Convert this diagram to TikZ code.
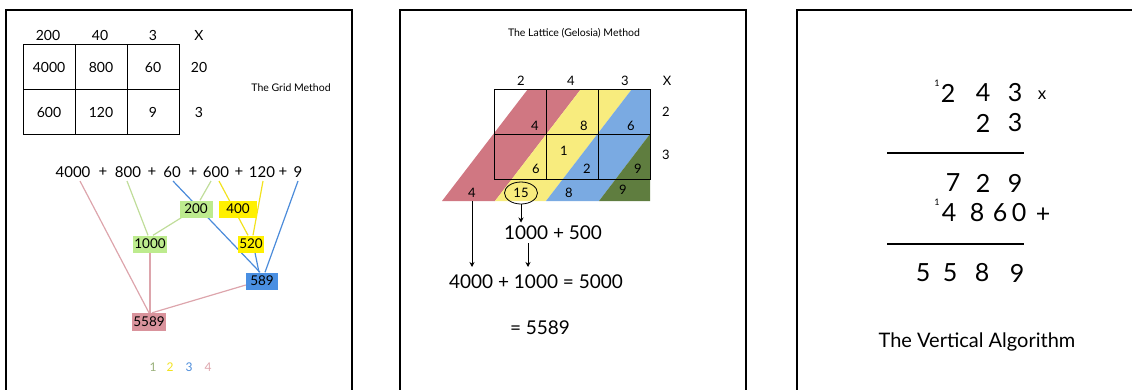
\documentclass[tikz,border=0pt]{standalone}
\usepackage{fontspec}
\setmainfont{Lato}
\usetikzlibrary{arrows.meta,backgrounds,shapes.geometric}

\definecolor{lnpink}{HTML}{DDA5AC}
\definecolor{lngreen}{HTML}{C0DD9A}
\definecolor{lnyellow}{HTML}{F2E21E}
\definecolor{lnblue}{HTML}{4B8BDA}
\definecolor{bxpink}{HTML}{D9939C}
\definecolor{bxgreen}{HTML}{BDEB8E}
\definecolor{bxyellow}{HTML}{FFF000}
\definecolor{bxblue}{HTML}{4A8FE2}
\definecolor{ltpink}{HTML}{D07782}
\definecolor{ltyellow}{HTML}{F8EC7E}
\definecolor{ltblue}{HTML}{7AAAE2}
\definecolor{ltgreen}{HTML}{5F7D3F}

\begin{document}
\begin{tikzpicture}[x=1pt,y=-1pt,
  panel/.style={line width=2pt},
  cellnum/.style={font=\fontsize{14}{16}\selectfont},
  sumnum/.style={font=\fontsize{15}{17}\selectfont},
  tally/.style={inner xsep=1pt,minimum height=17pt,font=\fontsize{13.5}{15}\selectfont},
  link/.style={line width=1.2pt},
  latnum/.style={font=\fontsize{13}{15}\selectfont},
  bignum/.style={font=\fontsize{19}{22}\selectfont},
  vertnum/.style={font=\fontsize{25}{28}\selectfont},
  carry/.style={inner sep=0pt,font=\fontsize{9}{11}\selectfont},
  caption/.style={font=\fontsize{10.5}{12}\selectfont}]
  \useasboundingbox (0,0) rectangle (1132,389);
  \clip (0,0) rectangle (1132,389);

  % frames
  \draw[panel] (6,400) -- (6,10) -- (352,10) -- (352,400);
  \draw[panel] (400,400) -- (400,10) -- (746,10) -- (746,400);
  \draw[panel] (797,400) -- (797,10) -- (1140,10);

  % the grid method
  \foreach \c in {0,1,2}
    \foreach \r in {0,1}
      \draw (23+52*\c,44+45*\r) rectangle ++(52,45);
  \node[cellnum] (h1) at (48,35) {200};
  \node[cellnum] (h2) at (100,35) {40};
  \node[cellnum] (h3) at (153,35) {3};
  \node[cellnum] (hx) at (199,35) {X};
  \node[cellnum] (g11) at (49,67) {4000};
  \node[cellnum] (g12) at (101,67) {800};
  \node[cellnum] (g13) at (153,67) {60};
  \node[cellnum] (v1) at (199,67) {20};
  \node[cellnum] (g21) at (49,112) {600};
  \node[cellnum] (g22) at (101,112) {120};
  \node[cellnum] (g23) at (153,112) {9};
  \node[cellnum] (v2) at (199,112) {3};
  \node[caption] (gridname) at (291,88) {The Grid Method};

  \node[sumnum] (t1) at (73,172) {4000};
  \node[sumnum] (p1) at (103,172) {+};
  \node[sumnum] (t2) at (128,172) {800};
  \node[sumnum] (p2) at (152,172) {+};
  \node[sumnum] (t3) at (172,172) {60};
  \node[sumnum] (p3) at (193,172) {+};
  \node[sumnum] (t4) at (216,172) {600};
  \node[sumnum] (p4) at (239,172) {+};
  \node[sumnum] (t5) at (262,172) {120};
  \node[sumnum] (p5) at (283,172) {+};
  \node[sumnum] (t6) at (298,172) {9};

  \node[tally,fill=bxgreen,minimum width=33pt] (b200) at (196,209) {200};
  \node[tally,fill=bxyellow,minimum width=38pt] (b400) at (238,209) {400};
  \node[tally,fill=bxgreen,minimum width=33pt] (b1000) at (150,244) {1000};
  \node[tally,fill=bxyellow,minimum width=24pt] (b520) at (251,244) {520};
  \node[tally,fill=bxblue,minimum width=32pt] (b589) at (262,281) {589};
  \node[tally,fill=bxpink,minimum width=32pt,minimum height=18pt] (b5589) at (149,322) {5589};

  \begin{scope}[on background layer]
    \draw[link,lnpink] ([xshift=7pt]t1.south) -- (b5589.north);
    \draw[link,lngreen] ([xshift=-1pt]t2.south) -- ([xshift=-2pt]b1000.north);
    \draw[link,lnblue] ([xshift=1pt]t3.south) -- ([xshift=-2pt]b589.north);
    \draw[link,lngreen] ([xshift=-5pt]t4.south) -- ([xshift=4pt]b200.north);
    \draw[link,lngreen] ([xshift=2pt]b200.south west) -- ([xshift=3pt]b1000.north);
    \draw[link,lnyellow] ([xshift=3pt]t4.south) -- ([xshift=-3pt]b520.north);
    \draw[link,lnyellow] ([xshift=1pt]t5.south) -- ([xshift=2pt]b520.north);
    \draw[link,lnblue] ([xshift=4pt]b520.south) -- ([xshift=-3pt]b589.north);
    \draw[link,lnblue] (t6.south) -- ([xshift=3pt]b589.north);
    \draw[link,lnpink] (b1000.south) -- (b1000.south |- b5589.north);
    \draw[link,lnpink] ([yshift=-4pt]b589.west) -- ([xshift=3pt]b5589.north);
  \end{scope}

  \node[font=\fontsize{12}{14}\selectfont,lngreen!80!black] (k1) at (153,367) {1};
  \node[font=\fontsize{12}{14}\selectfont,lnyellow] (k2) at (170,367) {2};
  \node[font=\fontsize{12}{14}\selectfont,lnblue] (k3) at (189,367) {3};
  \node[font=\fontsize{12}{14}\selectfont,lnpink] (k4) at (208,367) {4};

  % the lattice method
  \node[caption] (latname) at (574,33) {The Lattice (Gelosia) Method};
  \fill[ltpink] (528,89) -- (581,89) -- (495,201) -- (442,201) -- cycle;
  \fill[ltyellow] (581,89) -- (632,89) -- (546,201) -- (495,201) -- cycle;
  \fill[ltblue] (632,89) -- (650,89) -- (650,134) -- (599,201) -- (546,201) -- cycle;
  \fill[ltgreen] (650,134) -- (650,201) -- (599,201) -- cycle;
  \foreach \c in {0,1,2}
    \foreach \r in {0,1}
      \draw[line width=0.8pt] (494+52*\c,89+45*\r) rectangle ++(52,45);
  \node[latnum] (lh1) at (521,81) {2};
  \node[latnum] (lh2) at (571,81) {4};
  \node[latnum] (lh3) at (625,81) {3};
  \node[latnum] (lhx) at (667,81) {X};
  \node[latnum] (lv1) at (666,112) {2};
  \node[latnum] (lv2) at (666,155) {3};
  \node[latnum] (c11) at (535,126) {4};
  \node[latnum] (c12) at (584,126) {8};
  \node[latnum] (c13) at (631,126) {6};
  \node[latnum] (c21) at (564,151) {1};
  \node[latnum] (c22) at (536,169) {6};
  \node[latnum] (c23) at (587,169) {2};
  \node[latnum] (c24) at (638,169) {9};
  \node[latnum] (s1) at (472,193) {4};
  \node[latnum,draw,line width=0.8pt,ellipse,inner sep=0pt,minimum width=33pt,minimum height=22pt] (s2) at (521,193) {15};
  \node[latnum] (s3) at (569,193) {8};
  \node[latnum] (s4) at (623,190) {9};

  \node[bignum] (part) at (553,233) {1000 + 500};
  \node[bignum] (total) at (536,282) {4000 + 1000 = 5000};
  \node[bignum] (answer) at (540,328) {= 5589};
  \coordinate (tip1) at (472,267);
  \coordinate (tip2) at (528,267);
  \draw[-{Stealth[length=5pt,width=5pt]},line width=0.9pt] (s1.south) -- (tip1);
  \draw[-{Stealth[length=5pt,width=5pt]},line width=0.9pt] (s2.south) -- (s2.south |- part.north);
  \draw[-{Stealth[length=5pt,width=5pt]},line width=0.9pt] (part.south -| tip2) -- (tip2);

  % the vertical algorithm
  \node[carry] (k243) at (937,83) {1};
  \node[vertnum] (a1) at (948,93) {2};
  \node[vertnum] (a2) at (983,93) {4};
  \node[vertnum] (a3) at (1015,93) {3};
  \node[font=\fontsize{17}{19}\selectfont] (times) at (1042,95) {x};
  \node[vertnum] (b1) at (983,123) {2};
  \node[vertnum] (b2) at (1015,123) {3};
  \coordinate (r1a) at (887,153);
  \coordinate (r1b) at (1024,153);
  \draw[line width=1.3pt] (r1a) -- (r1b);
  \node[vertnum] (m1) at (953,183) {7};
  \node[vertnum] (m2) at (983,183) {2};
  \node[vertnum] (m3) at (1015,183) {9};
  \node[carry] (k486) at (937,202) {1};
  \node[vertnum] (n1) at (949,213) {4};
  \node[vertnum] (n2) at (977,213) {8};
  \node[vertnum] (n3) at (1000,213) {6};
  \node[vertnum] (n4) at (1019,213) {0};
  \node[vertnum] (plus) at (1043,215) {+};
  \coordinate (r2a) at (887,244);
  \coordinate (r2b) at (1024,244);
  \draw[line width=1.3pt] (r2a) -- (r2b);
  \node[vertnum] (e1) at (923,273) {5};
  \node[vertnum] (e2) at (950,273) {5};
  \node[vertnum] (e3) at (982,273) {8};
  \node[vertnum] (e4) at (1017,273) {9};
  \node[font=\fontsize{20}{23}\selectfont] (vertname) at (977,342) {The Vertical Algorithm};
\end{tikzpicture}
\end{document}
